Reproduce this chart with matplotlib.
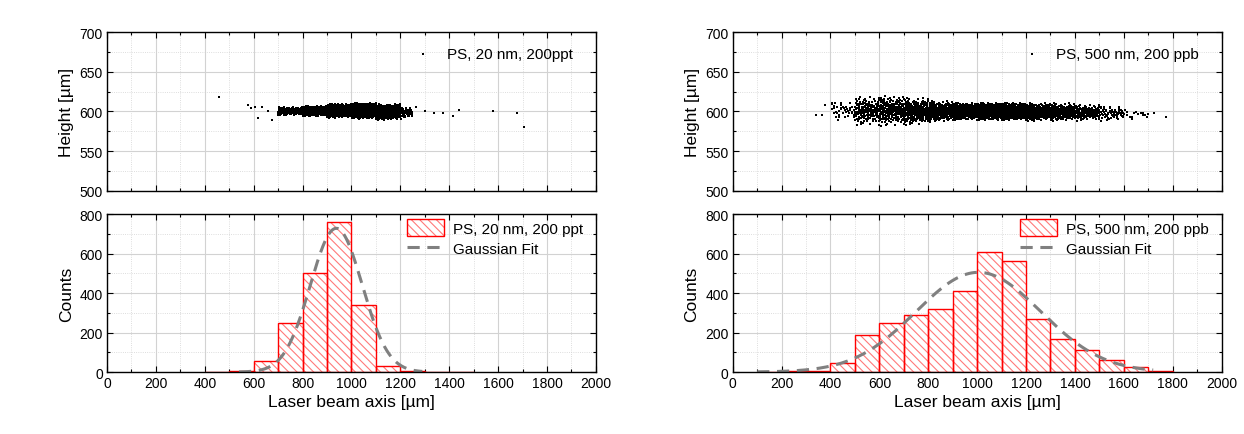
import numpy as np
import matplotlib
matplotlib.use('Agg')
import matplotlib.pyplot as plt
from matplotlib.ticker import MultipleLocator
from matplotlib.patches import Patch

plt.rcParams['font.family'] = ['Liberation Sans', 'DejaVu Sans']
plt.rcParams['hatch.linewidth'] = 0.8

# ---------------- data ----------------
# histogram bins (left edge, width 100 um) and counts
bins_20nm = [400, 500, 600, 700, 800, 900, 1000, 1100, 1200, 1300, 1400]
counts_20nm = [1, 3, 57, 248, 500, 758, 339, 29, 3, 2, 2]

bins_500nm = [100, 200, 300, 400, 500, 600, 700, 800, 900, 1000, 1100,
              1200, 1300, 1400, 1500, 1600, 1700]
counts_500nm = [2, 4, 5, 47, 187, 246, 287, 319, 408, 606, 560,
                267, 165, 111, 61, 24, 3]

# gaussian fit parameters (amplitude, centre, sigma) and drawn range
fit_20nm = (728, 938, 106)
fit_range_20nm = (540, 1290)
fit_500nm = (505, 1005, 255)
fit_range_500nm = (100, 1720)

# scatter clouds: strips along x with point count, centre height, half width
cloud_start_20nm = [700, 800, 900, 1000, 1100, 1200]
cloud_end_20nm = [800, 900, 1000, 1100, 1200, 1250]
cloud_n_20nm = [150, 300, 550, 700, 450, 60]
cloud_c_20nm = [600.5, 600.5, 601, 601, 599.5, 598.5]
cloud_h_20nm = [4.5, 5.5, 7, 8, 8, 6]
# isolated points (x, height)
stray_x_20nm = [458, 578, 590, 604, 619, 635, 660, 677, 1263, 1299, 1339, 1373, 1414, 1441, 1579, 1676, 1705]
stray_y_20nm = [618.5, 607.5, 604, 605, 592, 605, 600, 589, 605.5, 600, 598, 598, 594, 601.5, 600, 598, 580.5]

cloud_start_500nm = [400, 500, 600, 700, 800, 900, 1000, 1100, 1200, 1300, 1400, 1500, 1600]
cloud_end_500nm = [500, 600, 700, 800, 900, 1000, 1100, 1200, 1300, 1400, 1500, 1600, 1700]
cloud_n_500nm = [40, 140, 180, 200, 220, 270, 380, 360, 280, 210, 130, 65, 15]
cloud_c_500nm = [600, 601, 601, 600, 600, 600, 600, 600, 599.5, 599, 598.5, 597.5, 596]
cloud_h_500nm = [11, 15, 16, 14, 11, 9, 9, 9, 9, 9, 8.5, 8, 6]
stray_x_500nm = [340, 367, 379, 1677, 1722, 1771]
stray_y_500nm = [596, 596, 608, 596, 598, 593]

labels = [('PS, 20 nm, 200ppt', 'PS, 20 nm, 200 ppt'),
          ('PS, 500 nm, 200 ppb', 'PS, 500 nm, 200 ppb')]


def cloud_points(starts, ends, counts, centres, halfs):
    # spread the counted points evenly over each strip (low discrepancy sequence)
    g = 1.22074408460575947536
    a = np.array([1 / g, 1 / g ** 2, 1 / g ** 3])
    xs, ys = [], []
    for x0, x1, n, c, h in zip(starts, ends, counts, centres, halfs):
        i = np.arange(1, n + 1)[:, None]
        u = (0.5 + i * a) % 1
        xs.append(x0 + (x1 - x0) * u[:, 0])
        ys.append(c + h * 1.3 * (u[:, 1] + u[:, 2] - 1))
    return np.concatenate(xs), np.concatenate(ys)


def style_axes(ax, ymin, ymax, ymaj, ymin_step):
    ax.set_xlim(0, 2000)
    ax.set_ylim(ymin, ymax)
    ax.xaxis.set_major_locator(MultipleLocator(200))
    ax.xaxis.set_minor_locator(MultipleLocator(100))
    ax.yaxis.set_major_locator(MultipleLocator(ymaj))
    ax.yaxis.set_minor_locator(MultipleLocator(ymin_step))
    ax.tick_params(which='both', direction='in', top=True, right=True,
                   labelsize=10, width=0.8, pad=3)
    ax.tick_params(which='major', length=4)
    ax.tick_params(which='minor', length=2.5)
    ax.grid(which='major', color='#d2d2d2', lw=0.8)
    ax.grid(which='minor', color='#d2d2d2', lw=0.6, ls=':')
    ax.set_axisbelow(True)
    for sp in ax.spines.values():
        sp.set_linewidth(1.0)


fig = plt.figure(figsize=(12.44, 4.35), dpi=100)

panels = [
    (0.086, bins_20nm, counts_20nm, fit_20nm, fit_range_20nm,
     (cloud_start_20nm, cloud_end_20nm, cloud_n_20nm, cloud_c_20nm, cloud_h_20nm),
     stray_x_20nm, stray_y_20nm, labels[0]),
    (0.589, bins_500nm, counts_500nm, fit_500nm, fit_range_500nm,
     (cloud_start_500nm, cloud_end_500nm, cloud_n_500nm, cloud_c_500nm, cloud_h_500nm),
     stray_x_500nm, stray_y_500nm, labels[1]),
]

hatch_col = '#ff7a7a'

for left, bins, counts, fit, frange, cloud, sx, sy, (lab_top, lab_bot) in panels:
    # top: scatter of particle positions
    ax1 = fig.add_axes([left, 0.559, 0.393, 0.365])
    style_axes(ax1, 500, 700, 50, 25)
    ax1.tick_params(labelbottom=False)
    cx, cy = cloud_points(*cloud)
    px = np.concatenate([cx, sx])
    py = np.concatenate([cy, sy])
    ax1.scatter(px, py, s=1.3, marker='s', color='black', linewidths=0, label=lab_top)
    ax1.set_ylabel('Height [µm]', fontsize=12.5, labelpad=4)
    ax1.legend(loc='upper right', bbox_to_anchor=(0.985, 1.0), frameon=False,
               fontsize=11, scatterpoints=1, markerscale=1.5,
               handletextpad=0.6, borderaxespad=0.6)

    # bottom: histogram with gaussian fit
    ax2 = fig.add_axes([left, 0.1425, 0.393, 0.363])
    style_axes(ax2, 0, 800, 200, 100)
    # hatch in a lighter red, outline in full red
    ax2.bar(bins, counts, width=100, align='edge', facecolor='white',
            edgecolor=hatch_col, hatch='\\\\\\\\', linewidth=0)
    ax2.bar(bins, counts, width=100, align='edge', fill=False,
            edgecolor='red', linewidth=1.0)
    amp, xc, sig = fit
    gx = np.linspace(frange[0], frange[1], 300)
    gy = amp * np.exp(-(gx - xc) ** 2 / (2 * sig ** 2))
    fit_line, = ax2.plot(gx, gy, color='#808080', lw=2.2, ls=(0, (4, 2.5)))
    ax2.set_ylabel('Counts', fontsize=12.5, labelpad=4)
    ax2.set_xlabel('Laser beam axis [µm]', fontsize=12.5, labelpad=3)
    bar_handle = (Patch(facecolor='white', edgecolor=hatch_col, hatch='\\\\\\\\', linewidth=0),
                  Patch(fill=False, edgecolor='red', linewidth=1.0))
    ax2.legend([bar_handle, fit_line], [lab_bot, 'Gaussian Fit'],
               loc='upper right', bbox_to_anchor=(0.985, 1.0), frameon=False,
               fontsize=11, handlelength=2.4, handleheight=1.25,
               borderaxespad=0.15, borderpad=0.2,
               handletextpad=0.6, labelspacing=0.3)

fig.savefig('out.png', dpi=100)
